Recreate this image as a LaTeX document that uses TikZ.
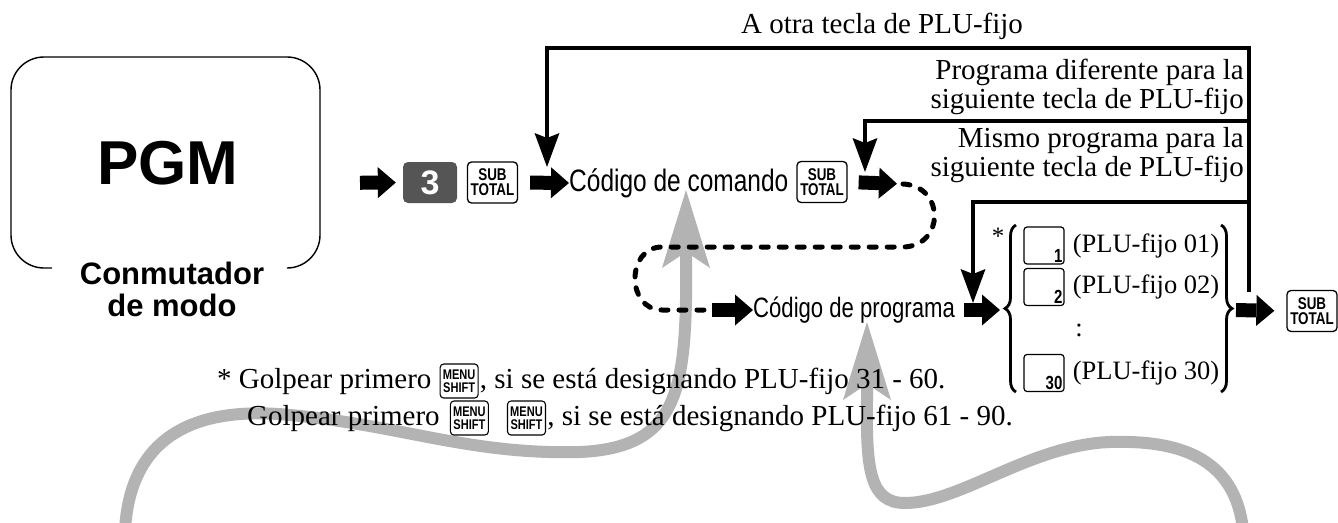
\documentclass[tikz,border=0pt]{standalone}
\usepackage{fontspec}
\setmainfont{Liberation Serif}
\newfontfamily\hel{Liberation Sans}
\newfontfamily\helnar[FakeStretch=0.79]{Liberation Sans}
\usepackage{tikz}
\usetikzlibrary{arrows.meta, positioning, decorations.pathreplacing, calc}
\usepackage{xcolor}
\definecolor{grisfonce}{RGB}{85,85,85}
\definecolor{grisclair}{RGB}{179,179,179}
\newcommand{\fsz}[2]{\fontsize{#1}{#2}\selectfont}

\begin{document}
\begin{tikzpicture}[x=1pt, y=-1pt,
	blk/.style={line width=14pt, -{Triangle[length=18pt, width=31pt, line width=0pt]}},
	fb/.style={line width=4pt, line join=miter, -{Stealth[length=34pt, width=25pt, inset=5pt, line width=0pt]}},
	grisfl/.style={line width=12pt, draw=grisclair, -{Stealth[length=78pt, width=48pt, inset=16pt, line width=0pt]}},
	pointille/.style={line width=5pt, line cap=round, dash pattern=on 7pt off 11pt},
	touche/.style={draw, line width=1.3pt, rounded corners=4pt, minimum width=50pt, minimum height=41pt, inner sep=0pt, align=center, font=\helnar\bfseries\fsz{17}{15}},
	menutouche/.style={draw, line width=1.1pt, rounded corners=3.5pt, minimum width=38pt, minimum height=34pt, inner sep=0pt, align=center, font=\helnar\bfseries\fsz{14}{12.5}},
	plutouche/.style={draw, line width=1.2pt, rounded corners=3pt, minimum width=40pt, minimum height=37pt, inner sep=0pt},
	numero/.style={font=\helnar\bfseries\fsz{19}{19}, anchor=south east, inner sep=2pt},
	lbl/.style={font=\fsz{29}{29}, inner sep=0pt, align=right},
	fn/.style={font=\fsz{29}{30}, inner sep=0pt},
	plu/.style={font=\fsz{26.5}{28}, inner sep=0pt, anchor=west},
	brc/.style={line width=2.8pt, decorate, decoration={brace, amplitude=11pt}}]
				\useasboundingbox (0,0) rectangle (1338,522);
				
				% fleches grises (derriere)
				\draw[grisfl] (125,530) .. controls (130,440) and (190,405) .. (290,415)
				.. controls (400,425) and (470,455) .. (580,452)
				.. controls (670,448) and (684,400) .. (686,300) -- (686,190);
				\draw[grisfl] (1243,530) .. controls (1235,455) and (1175,440) .. (1110,442)
				.. controls (1030,445) and (960,503) .. (905,503)
				.. controls (870,503) and (866,470) .. (867,400) -- (867,322);
				
				% commutateur de mode
				\draw[line width=1.4pt, rounded corners=33pt] (52,268) -- (11,268) -- (11,57) -- (320,57) -- (320,268) -- (290,268);
				\node[font=\hel\bfseries\fsz{62}{62}] (pgm) at (168,163) {PGM};
				\node[font=\hel\bfseries\fsz{31}{32}, align=center] (conm) at (172,289) {Conmutador\\de modo};
				\coordinate (pgmr) at (320,183);
				
				% ligne principale
				\node[fill=grisfonce, rounded corners=5pt, minimum width=54pt, minimum height=41pt, inner sep=0pt, text=white, font=\hel\bfseries\fsz{34}{34}] (k3) at (430,182.5) {3};
				\node[touche] (st1) at (492.5,182.5) {SUB\\TOTAL};
				\node[font=\helnar\fsz{31}{31}, inner sep=0pt, anchor=west] (cmd) at (569,183) {Código de comando};
				\node[touche] (st2) at (822,182) {SUB\\TOTAL};
				\coordinate (dl0) at (903,184);
				\coordinate (dl1) at (712,310);
				\node[font=\helnar\fsz{28}{28}, inner sep=0pt, anchor=west] (prog) at (753,310) {Código de programa};
				
				\draw[blk, shorten <=40pt, shorten >=7pt] (pgmr) -- (k3.west);
				\draw[blk, shorten <=12pt, shorten >=0pt] (st1.east) -- (cmd.west);
				\draw[blk, shorten <=11pt, shorten >=6pt] (st2.east) -- (dl0);
				\draw[pointille] (dl0) .. controls (945,186) and (945,246) .. (903,247) -- (662,247)
				.. controls (626,247) and (626,310) .. (662,310) -- (dl1);
				\draw[blk] (dl1) -- (prog.west);
				
				% accolade et touches PLU
				\coordinate (brl) at (1005,310);
				\coordinate (brr) at (1233,310);
				\draw[brc] (1016,392) -- (1016,225);
				\draw[brc] (1221,225) -- (1221,392);
				\node[font=\fsz{25}{25}, inner sep=0pt] (etoile) at (998,236) {*};
				\node[plutouche, label={[numero]south east:1}] (p1) at (1044,245.5) {};
				\node[plutouche, label={[numero]south east:2}] (p2) at (1044,287) {};
				\node[plutouche, label={[numero]south east:30}] (p30) at (1044,373) {};
				\node[plu] (t1) at ([xshift=8pt]p1.east) {(PLU-fijo 01)};
				\node[plu] (t2) at ([xshift=8pt]p2.east) {(PLU-fijo 02)};
				\node[plu] (t30) at ([xshift=8pt]p30.east) {(PLU-fijo 30)};
				\node[font=\fsz{26.5}{28}, inner sep=0pt] (pts) at (1079,330) {:};
				\node[touche] (st3) at (1312,311) {SUB\\TOTAL};
				
				\draw[blk, shorten <=9pt, shorten >=5pt] (prog.east) -- (brl);
				\draw[blk, shorten <=3pt, shorten >=12pt] (brr) -- (st3.west);
				
				% retours
				\coordinate (ret) at (1249,292);
				\coordinate (j2) at (1249,121);
				\coordinate (j3) at (1249,202);
				\coordinate (c1) at (547,167);
				\coordinate (c2) at (865,172);
				\coordinate (c3) at (973,303);
				\draw[fb] (ret) |- (547,48) -- (c1);
				\draw[fb] (j2) -| (c2);
				\draw[fb] (j3) -| (c3);
				\node[lbl] (ta) at (882,26) {A otra tecla de PLU-fijo};
				\node[lbl, anchor=south east] (tb) at (1244,115) {Programa diferente para la\\siguiente tecla de PLU-fijo};
				\node[lbl, anchor=south east] (tc) at (1244,183) {Mismo programa para la\\siguiente tecla de PLU-fijo};
				
				% note
				\node[fn, anchor=base west] (fn1) at (217,388) {* Golpear primero};
				\node[menutouche, right=8pt of fn1] (ms1) {MENU\\SHIFT};
				\node[fn, anchor=base west] (fn1b) at ([xshift=1pt]ms1.east |- fn1.base) {, si se está designando PLU-fijo 31 - 60.};
				\node[fn, anchor=base west] (fn2) at ($(fn1.base west)+(30,37)$) {Golpear primero};
				\node[menutouche, right=10pt of fn2] (ms2) {MENU\\SHIFT};
				\node[menutouche, right=18pt of ms2] (ms3) {MENU\\SHIFT};
				\node[fn, anchor=base west] (fn2b) at ([xshift=1pt]ms3.east |- fn2.base) {, si se está designando PLU-fijo 61 - 90.};
			\end{tikzpicture}
\end{document}
